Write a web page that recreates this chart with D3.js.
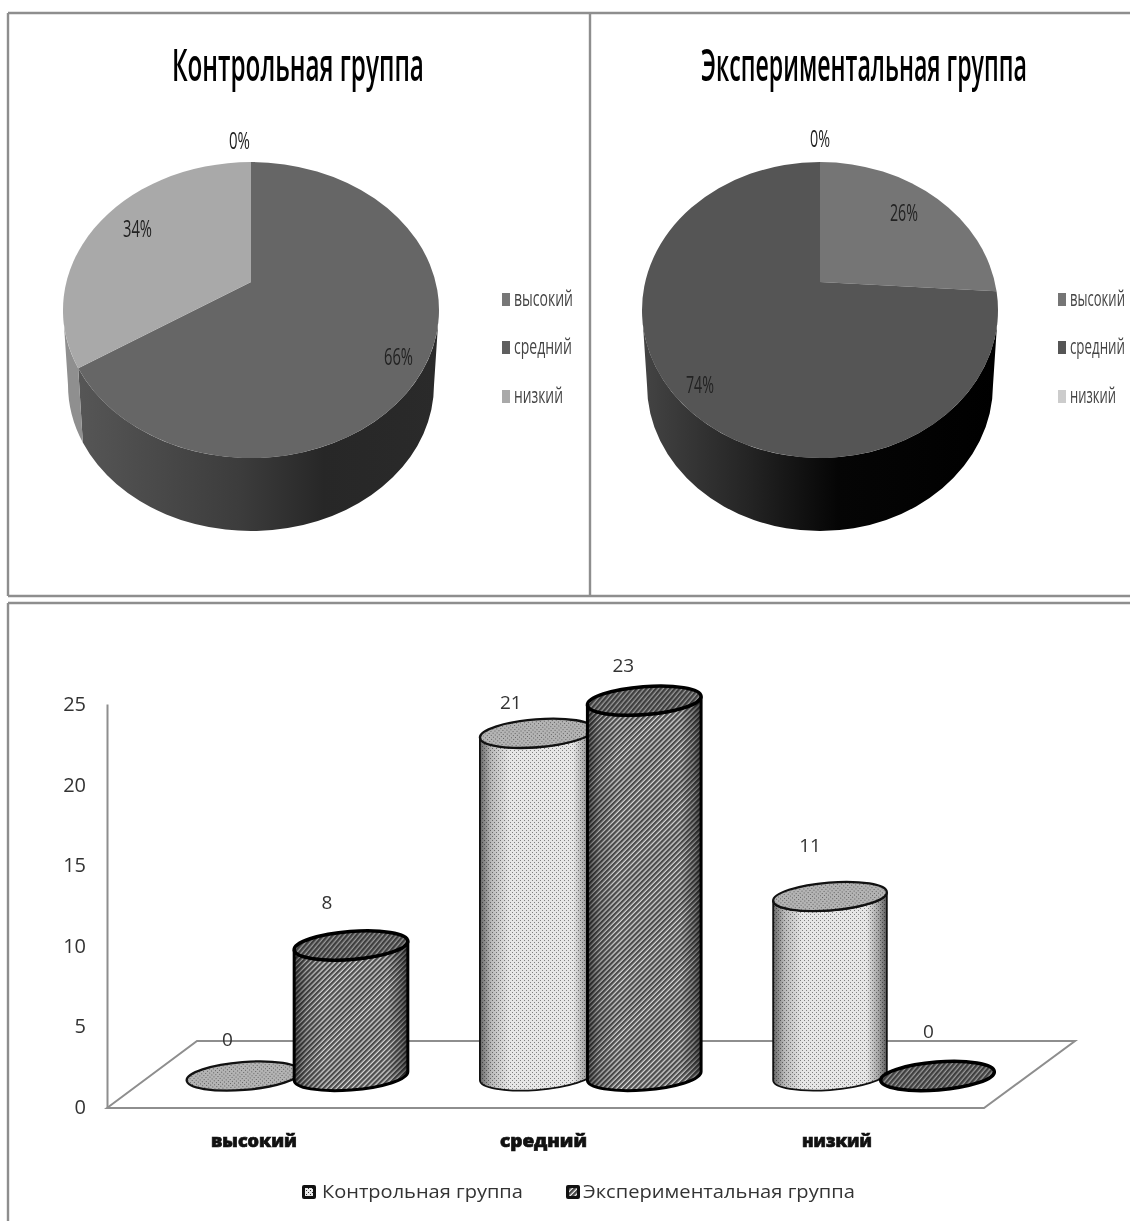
<!DOCTYPE html>
<html><head><meta charset="utf-8">
<script src="https://cdn.jsdelivr.net/npm/d3@7"></script>
<style>html,body{margin:0;padding:0;background:#fff}svg{display:block;filter:blur(.45px)}text{font-family:"Open Sans",sans-serif}</style>
</head><body><svg id="c" width="1130" height="1221"></svg>
<script>
// ---- data ----
const levels = ["высокий","средний","низкий"];
const groups = ["Контрольная группа","Экспериментальная группа"];
const controlPercent = [0,66,34];
const experimentalPercent = [26,74,0];
const controlCounts = [0,21,11];
const experimentalCounts = [8,23,0];
const yTicks = [0,5,10,15,20,25];

// ---- layout ----
const svg = d3.select("#c");
const defs = svg.append("defs");
function grad(id, stops){
  const g = defs.append("linearGradient").attr("id",id).attr("x1",0).attr("x2",1).attr("y1",0).attr("y2",0);
  stops.forEach(s=>g.append("stop").attr("offset",s[0]).attr("stop-color",s[1]).attr("stop-opacity",s[2]===undefined?1:s[2]));
}
// text squeezed horizontally to a measured width with a scale transform
function txt(x,y,s,len,size,o={}){
  const t = svg.append("text").attr("font-size",size).attr("fill",o.fill||"#333").text(s);
  if(o.weight)t.attr("font-weight",o.weight);
  if(o.stroke)t.attr("stroke",o.stroke).attr("stroke-width",o.sw||.5);
  if(len){
    const w=t.node().getComputedTextLength();
    t.attr("transform",`translate(${x},${y}) scale(${len/w},1)`);
  } else {
    t.attr("x",x).attr("y",y);
  }
  return t;
}

// frames
const frameColor="#8e8e8e";
[[8,13,1130,13],[8,13,8,596],[8,596,1130,596],[590,13,590,596],[8,603,1130,603],[8,603,8,1221]]
 .forEach(l=>svg.append("line").attr("x1",l[0]).attr("y1",l[1]).attr("x2",l[2]).attr("y2",l[3]).attr("stroke",frameColor).attr("stroke-width",2.4));

// ---- pies ----
grad("wallA",[[0,"#565656"],[.45,"#3c3c3c"],[.68,"#272727"],[1,"#2a2a2a"]]);
grad("wallB",[[0,"#444"],[.3,"#242424"],[.55,"#050505"],[1,"#000"]]);

const pies = [
 {name:groups[0],values:controlPercent,cx:251,rx:188,brx:183,tops:["#777","#666","#a9a9a9"],walls:["#777","url(#wallA)","#8f8f8f"],
  swatches:["#777","#5f5f5f","#a9a9a9"],title:[172,252],lx:502,ltxt:514,lw:[59,58,49],
  labels:[[229,149,"0%",21],[123,237,"34%",29],[384,365,"66%",29]]},
 {name:groups[1],values:experimentalPercent,cx:820,rx:178,brx:173,tops:["#757575","#555","#ccc"],walls:["#555","url(#wallB)","#ccc"],
  swatches:["#757575","#555","#ccc"],title:[701,326],lx:1058,ltxt:1070,lw:[55,55,46],
  labels:[[810,147,"0%",20],[890,221,"26%",28],[686,393,"74%",28]]}
];
const topCy=310, topRy=148, botCy=385, botRy=146, apexY=282, legendY=[299,347,396];
const pieGen = d3.pie().sort(null).value(d=>d);

pies.forEach(P=>{
  const apexN = (apexY-topCy)/topRy;
  // polar angle (clockwise from 12 o'clock) -> ellipse parameter of the ray leaving the off-centre apex
  const param = th=>{
    const dx=Math.sin(th), dy=-Math.cos(th);
    const b=apexN*dy, t=-b+Math.sqrt(b*b+1-apexN*apexN);
    let p=Math.atan2(apexN+t*dy,t*dx);
    if(p<-Math.PI/2-1e-6)p+=2*Math.PI;
    return p;
  };
  const topPt=p=>[P.cx+P.rx*Math.cos(p),topCy+topRy*Math.sin(p)];
  const botPt=p=>[P.cx+P.brx*Math.cos(p),botCy+botRy*Math.sin(p)];
  const arcs=pieGen(P.values);
  arcs.forEach((a,i)=>{
    if(a.data===0)return;
    const p0=param(a.startAngle);
    let p1=param(a.endAngle); if(p1<=p0)p1+=2*Math.PI;
    const pa=Math.max(p0,0), pb=Math.min(p1,Math.PI);
    if(pb>pa){
      const A=topPt(pa),B=topPt(pb),C=botPt(pb),D=botPt(pa);
      svg.append("path").attr("fill",P.walls[i])
       .attr("d",`M${A}A${P.rx},${topRy} 0 0 1 ${B}L${C}A${P.brx},${botRy} 0 0 0 ${D}Z`);
    }
  });
  arcs.forEach((a,i)=>{
    if(a.data===0)return;
    const p0=param(a.startAngle);
    let p1=param(a.endAngle); if(p1<=p0)p1+=2*Math.PI;
    const A=topPt(p0),B=topPt(p1);
    svg.append("path").attr("fill",P.tops[i])
     .attr("d",`M${P.cx},${apexY}L${A}A${P.rx},${topRy} 0 ${p1-p0>Math.PI?1:0} 1 ${B}Z`);
  });
  txt(P.title[0],81,P.name,P.title[1],45,{fill:"#000",weight:600});
  P.labels.forEach(l=>txt(l[0],l[1],l[2],l[3],24,{fill:"#222"}));
  levels.forEach((lv,i)=>{
    svg.append("rect").attr("x",P.lx).attr("y",legendY[i]-6).attr("width",8).attr("height",13).attr("fill",P.swatches[i]);
    txt(P.ltxt,legendY[i]+7,lv,P.lw[i],22,{fill:"#444"});
  });
});

// ---- bar chart ----
const axisLeftX=107, floorFrontY=1108, floorBackY=1041, floorBackLeft=197, floorBackRight=1075, floorFrontRight=984;
svg.append("path").attr("fill","none").attr("stroke",frameColor).attr("stroke-width",2)
 .attr("d",`M${axisLeftX},${floorFrontY}L${floorBackLeft},${floorBackY}H${floorBackRight}L${floorFrontRight},${floorFrontY}Z`);

const yAxisScale=d3.scaleLinear().domain([0,25]).range([1107,704]);
const yAxis=svg.append("g").attr("transform",`translate(${axisLeftX},0)`)
  .call(d3.axisLeft(yAxisScale).tickValues(yTicks).tickSize(0).tickPadding(21).tickSizeOuter(0));
yAxis.select(".domain").attr("stroke",frameColor).attr("stroke-width",2);
yAxis.selectAll("text").attr("font-size",20).attr("fill","#333").attr("font-family","'Open Sans',sans-serif");

// patterns
function dots(id,bg,fg){
  const p=defs.append("pattern").attr("id",id).attr("patternUnits","userSpaceOnUse").attr("width",4).attr("height",4);
  p.append("rect").attr("width",4).attr("height",4).attr("fill",bg);
  p.append("rect").attr("x",0).attr("y",0).attr("width",1).attr("height",1).attr("fill",fg);
  p.append("rect").attr("x",2).attr("y",2).attr("width",1).attr("height",1).attr("fill",fg);
}
function hatch(id,bg,fg){
  const p=defs.append("pattern").attr("id",id).attr("patternUnits","userSpaceOnUse").attr("width",3.6).attr("height",3.6).attr("patternTransform","rotate(-45)");
  p.append("rect").attr("width",3.6).attr("height",3.6).attr("fill",bg);
  p.append("rect").attr("width",3.6).attr("height",2.3).attr("fill",fg);
}
dots("dotSide","#e6e6e6","#808080");
dots("dotTop","#b4b4b4","#5e5e5e");
hatch("hatchSide","#d6d6d6","#4c4c4c");
hatch("hatchTop","#9a9a9a","#3e3e3e");
grad("shade",[[0,"#000",.55],[.1,"#000",.2],[.26,"#000",0],[.82,"#000",0],[.93,"#000",.3],[1,"#000",.6]]);

const xGroup=d3.scalePoint().domain(levels).range([296.5,883]);
const seriesOffset={control:-53,exp:54.5};
const yBar=d3.scaleLinear().domain([0,25]).range([1076,668]);
const rx=57, ry=14, phi=-4.5;
const rad=phi*Math.PI/180;
const halfW=Math.sqrt(rx*rx*Math.cos(rad)**2+ry*ry*Math.sin(rad)**2);
const edgeDy=(rx*rx-ry*ry)*Math.sin(rad)*Math.cos(rad)/halfW;

function cylinder(cx,v,sideFill,topFill,stroke,sideW){
  const yt=yBar(v), yb=yBar(0);
  const g=svg.append("g");
  if(v>0){
    const body=`M${cx-halfW},${yt-edgeDy}L${cx-halfW},${yb-edgeDy}A${rx},${ry} ${phi} 0 0 ${cx+halfW},${yb+edgeDy}L${cx+halfW},${yt+edgeDy}A${rx},${ry} ${phi} 0 1 ${cx-halfW},${yt-edgeDy}Z`;
    g.append("path").attr("d",body).attr("fill",sideFill);
    g.append("path").attr("d",body).attr("fill","url(#shade)").attr("stroke",stroke).attr("stroke-width",sideW);
  }
  g.append("ellipse").attr("cx",0).attr("cy",0).attr("rx",rx).attr("ry",ry)
   .attr("transform",`translate(${cx},${yt}) rotate(${phi})`)
   .attr("fill",topFill).attr("stroke",stroke).attr("stroke-width",sideW+.5);
}
levels.forEach((lv,i)=>{
  const c=xGroup(lv);
  cylinder(c+seriesOffset.control,controlCounts[i],"url(#dotSide)","url(#dotTop)","#111",1.8);
  cylinder(c+seriesOffset.exp,experimentalCounts[i],"url(#hatchSide)","url(#hatchTop)","#000",3);
});

// value labels: offsets from the cylinder top
const controlLabelOff=[[-16,-36],[-26,-30],[-20,-50]];
const expLabelOff=[[-24,-42],[-21,-35],[-9,-44]];
levels.forEach((lv,i)=>{
  const c=xGroup(lv);
  [[controlCounts[i],seriesOffset.control,controlLabelOff[i]],[experimentalCounts[i],seriesOffset.exp,expLabelOff[i]]].forEach(r=>{
    txt(c+r[1]+r[2][0],yBar(r[0])+r[2][1]+6,String(r[0]),null,19).attr("text-anchor","middle");
  });
});

// category labels
const catLabelX=[211,500,802], catLabelW=[86,87,70];
levels.forEach((lv,i)=>{
  txt(catLabelX[i],1147,lv,catLabelW[i],18,{fill:"#111",weight:800,stroke:"#111",sw:.7});
});

// legend
dots("dotLeg","#e8e8e8","#333");
hatch("hatchLeg","#eee","#444");
[[302,322,201,"url(#dotLeg)"],[566,583,272,"url(#hatchLeg)"]].forEach((l,i)=>{
  svg.append("rect").attr("x",l[0]).attr("y",1185).attr("width",14).attr("height",14).attr("rx",2).attr("fill","#111");
  svg.append("rect").attr("x",l[0]+3).attr("y",1188).attr("width",8).attr("height",8).attr("fill",l[3]);
  txt(l[1],1198,groups[i],l[2],19,{fill:"#333"});
});
</script></body></html>
